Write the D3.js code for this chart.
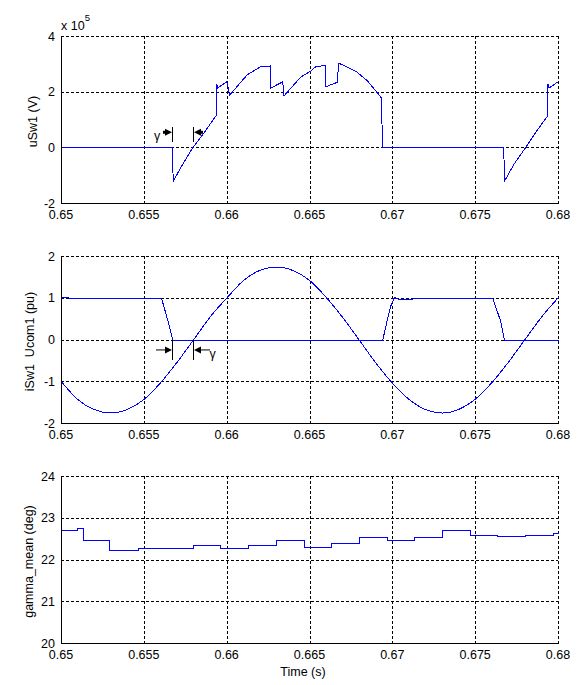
<!DOCTYPE html>
<html>
<head>
<meta charset="utf-8">
<script src="https://cdn.jsdelivr.net/npm/d3@7"></script>
<style>
  body { margin: 0; background: #fff; }
  svg { display: block; font-family: "Liberation Sans", Arial, sans-serif; }
  .grid line { stroke: #000; stroke-dasharray: 3,2; shape-rendering: crispEdges; }
  .eje { stroke: #000; shape-rendering: crispEdges; }
  .curva { fill: none; stroke: #0000ff; stroke-width: 1; shape-rendering: crispEdges; }
  .tick { font-size: 12.5px; fill: #000; }
  .etiqueta { font-size: 12.5px; fill: #000; white-space: pre; }
</style>
</head>
<body>
<svg width="584" height="685"></svg>
<script>
'use strict';

// eje de tiempo comun
var tiempoTicks = [0.65, 0.655, 0.66, 0.665, 0.67, 0.675, 0.68];
var tiempoLabels = ["0.65", "0.655", "0.66", "0.665", "0.67", "0.675", "0.68"];

// uSw1 (V) x 10^5
var uSwT = [0.65, 0.65668, 0.65674, 0.65730, 0.65793, 0.65870, 0.65936, 0.65937, 0.65942, 0.65998,
            0.66016, 0.66121, 0.66201, 0.66262, 0.66264, 0.66336, 0.66343, 0.66443, 0.66503, 0.66533,
            0.66594, 0.66597, 0.66624, 0.66668, 0.66670, 0.66724, 0.66785, 0.66845, 0.66895, 0.66932,
            0.66934, 0.66940, 0.67670, 0.67674, 0.67730, 0.67801, 0.67870, 0.67935, 0.67937, 0.67942, 0.68];
var uSwV = [0, 0, -1.2, -0.6, 0, 0.62, 1.18, 2.29, 2.15, 2.37,
            1.9, 2.63, 2.91, 2.94, 2.15, 2.37, 1.86, 2.54, 2.75, 2.9,
            2.97, 2.19, 2.27, 2.36, 3.05, 2.9, 2.72, 2.41, 2.06, 1.79,
            0.85, 0, 0, -1.2, -0.6, 0, 0.62, 1.15, 2.29, 2.15, 2.38];
var uSwTicks = [-2, 0, 2, 4];

// iSw1 (pu)
var iSwT = [0.65, 0.65005, 0.6510, 0.6520, 0.6528, 0.6540, 0.6548, 0.6556, 0.65604, 0.65640, 0.65672,
            0.66939, 0.66968, 0.66990, 0.67010, 0.6703, 0.6712, 0.6715, 0.6725, 0.6730, 0.67603, 0.67650, 0.67674, 0.68];
var iSwV = [0.9, 1.02, 0.99, 0.99, 0.98, 0.99, 0.985, 1.0, 1.0, 0.5, 0,
            0, 0.5, 0.85, 1.02, 0.98, 0.985, 0.99, 0.985, 0.995, 1.0, 0.46, 0, 0];

// Ucom1 (pu)
var ucomT = [0.650, 0.651, 0.652, 0.653, 0.654, 0.655, 0.656, 0.657, 0.658, 0.659, 0.660,
             0.661, 0.662, 0.663, 0.664, 0.665, 0.666, 0.667, 0.668, 0.669, 0.670,
             0.671, 0.672, 0.673, 0.674, 0.675, 0.676, 0.677, 0.678, 0.679, 0.680];
var ucomV = [-1.0, -1.43, -1.67, -1.75, -1.66, -1.42, -1.01, -0.52, 0.02, 0.56, 1.02,
             1.43, 1.67, 1.75, 1.66, 1.42, 1.01, 0.52, -0.02, -0.56, -1.04,
             -1.43, -1.67, -1.75, -1.66, -1.41, -1.01, -0.52, 0.02, 0.56, 1.02];
var iSwTicks = [-2, -1, 0, 1, 2];

// gamma_mean (deg)
var gamT = [0.65, 0.65095, 0.65131, 0.65289, 0.65465, 0.65634, 0.65796, 0.65962, 0.66131, 0.66297,
            0.66464, 0.66632, 0.66799, 0.66965, 0.67131, 0.67302, 0.67467, 0.67634, 0.67801, 0.67970, 0.68];
var gamV = [22.72, 22.75, 22.48, 22.22, 22.29, 22.27, 22.34, 22.29, 22.36, 22.48,
            22.31, 22.41, 22.53, 22.48, 22.53, 22.72, 22.58, 22.56, 22.60, 22.63, 22.63];
var gamTicks = [20, 21, 22, 23, 24];

// instantes del angulo de extincion gamma
var gammaT = [0.65672, 0.65796];

var svg = d3.select("svg");
var x = d3.scaleLinear().domain([0.65, 0.68]).range([61, 558]);

var paneles = [
    { top: 36, bottom: 203, dom: [-2, 4], ticks: uSwTicks, label: "uSw1 (V)", labelX: 32,
      series: [{ t: uSwT, v: uSwV, curve: d3.curveLinear }] },
    { top: 256, bottom: 423, dom: [-2, 2], ticks: iSwTicks, label: "iSw1\u00a0\u00a0Ucom1 (pu)", labelX: 29.5,
      series: [{ t: iSwT, v: iSwV, curve: d3.curveLinear }, { t: ucomT, v: ucomV, curve: d3.curveMonotoneX }] },
    { top: 476, bottom: 643, dom: [20, 24], ticks: gamTicks, label: "gamma_mean (deg)", labelX: 28.5,
      series: [{ t: gamT, v: gamV, curve: d3.curveStepAfter }] }
];

var dibujarPanel = function(p) {
    var y = d3.scaleLinear().domain(p.dom).range([p.bottom, p.top]);
    p.y = y;
    var g = svg.append("g");

    var grid = g.append("g").attr("class", "grid");
    grid.selectAll(".gx").data(tiempoTicks.slice(1)).enter().append("line")
        .attr("x1", function(d) { return Math.round(x(d)) + 0.5; })
        .attr("x2", function(d) { return Math.round(x(d)) + 0.5; })
        .attr("y1", p.top).attr("y2", p.bottom);
    grid.selectAll(".gy").data(p.ticks.slice(1)).enter().append("line")
        .attr("x1", x(0.65)).attr("x2", x(0.68))
        .attr("y1", function(d) { return Math.round(y(d)) + 0.5; })
        .attr("y2", function(d) { return Math.round(y(d)) + 0.5; });

    p.series.forEach(function(s) {
        var linea = d3.line()
            .x(function(d, i) { return Math.round(x(s.t[i]) * 4) / 4 + 0.5; })
            .y(function(d, i) { return Math.round(y(s.v[i]) * 4) / 4 + 0.5; })
            .curve(s.curve);
        g.append("path").attr("class", "curva").attr("d", linea(s.t));
    });

    g.append("line").attr("class", "eje")
        .attr("x1", Math.round(x(0.65)) + 0.5).attr("x2", Math.round(x(0.65)) + 0.5)
        .attr("y1", p.top).attr("y2", Math.round(p.bottom) + 0.5);
    g.append("line").attr("class", "eje")
        .attr("x1", Math.round(x(0.65)) + 0.5).attr("x2", x(0.68) + 0.5)
        .attr("y1", Math.round(p.bottom) + 0.5).attr("y2", Math.round(p.bottom) + 0.5);

    g.selectAll(".ty").data(p.ticks).enter().append("text")
        .attr("class", "tick")
        .attr("x", 55)
        .attr("y", function(d) { return y(d) + 4.5; })
        .attr("text-anchor", "end")
        .text(function(d) { return d; });

    g.selectAll(".tx").data(tiempoTicks).enter().append("text")
        .attr("class", "tick")
        .attr("x", function(d) { return x(d); })
        .attr("y", p.bottom + 15.5)
        .attr("text-anchor", "middle")
        .text(function(d, i) { return tiempoLabels[i]; });

    g.append("text").attr("class", "etiqueta")
        .attr("transform", "translate(" + (p.labelX + 4.5) + "," + ((p.top + p.bottom) / 2 + 2) + ") rotate(-90)")
        .attr("text-anchor", "middle")
        .text(p.label);
};

paneles.forEach(dibujarPanel);

// factor de escala del primer panel
var exp = svg.append("text").attr("class", "tick").attr("x", 61).attr("y", 29.5);
exp.append("tspan").text("x 10");
exp.append("tspan").attr("dy", -9).style("font-size", "9.5px").text("5");

// marcas gamma
var flecha = function(xp, yp, dir, largo, cuerpo) {
    // dir = 1 apunta a la derecha, -1 a la izquierda; la punta queda en xp
    svg.append("line")
        .attr("x1", xp - dir * largo).attr("x2", xp - dir * 5)
        .attr("y1", yp).attr("y2", yp)
        .attr("stroke", "#000").attr("stroke-width", cuerpo);
    svg.append("path")
        .attr("d", "M" + xp + "," + yp + "L" + (xp - dir * 7) + "," + (yp - 3.5) + "L" + (xp - dir * 7) + "," + (yp + 3.5) + "Z")
        .attr("fill", "#000");
};

var marcasGamma = function(p, v0, v1, vFlecha, largo, cuerpo, gx, gy) {
    gammaT.forEach(function(t, i) {
        var xp = Math.round(x(t)) + 0.5;
        svg.append("line").attr("class", "eje")
            .attr("x1", xp).attr("x2", xp)
            .attr("y1", p.y(v0)).attr("y2", p.y(v1));
        flecha(i === 0 ? xp - 0.5 : xp + 0.5, p.y(vFlecha), i === 0 ? 1 : -1, largo, cuerpo);
    });
    svg.append("text").attr("class", "etiqueta")
        .attr("x", gx).attr("y", gy)
        .attr("text-anchor", "middle")
        .text("γ");
};

marcasGamma(paneles[0], 0.72, 0.19, 0.54, 9, 3, 157, 140);
marcasGamma(paneles[1], 0, -0.5, -0.25, 16, 1, 212.5, 358);

svg.append("text").attr("class", "etiqueta")
    .attr("x", 303).attr("y", 675.5)
    .attr("text-anchor", "middle")
    .text("Time (s)");
</script>
</body>
</html>
